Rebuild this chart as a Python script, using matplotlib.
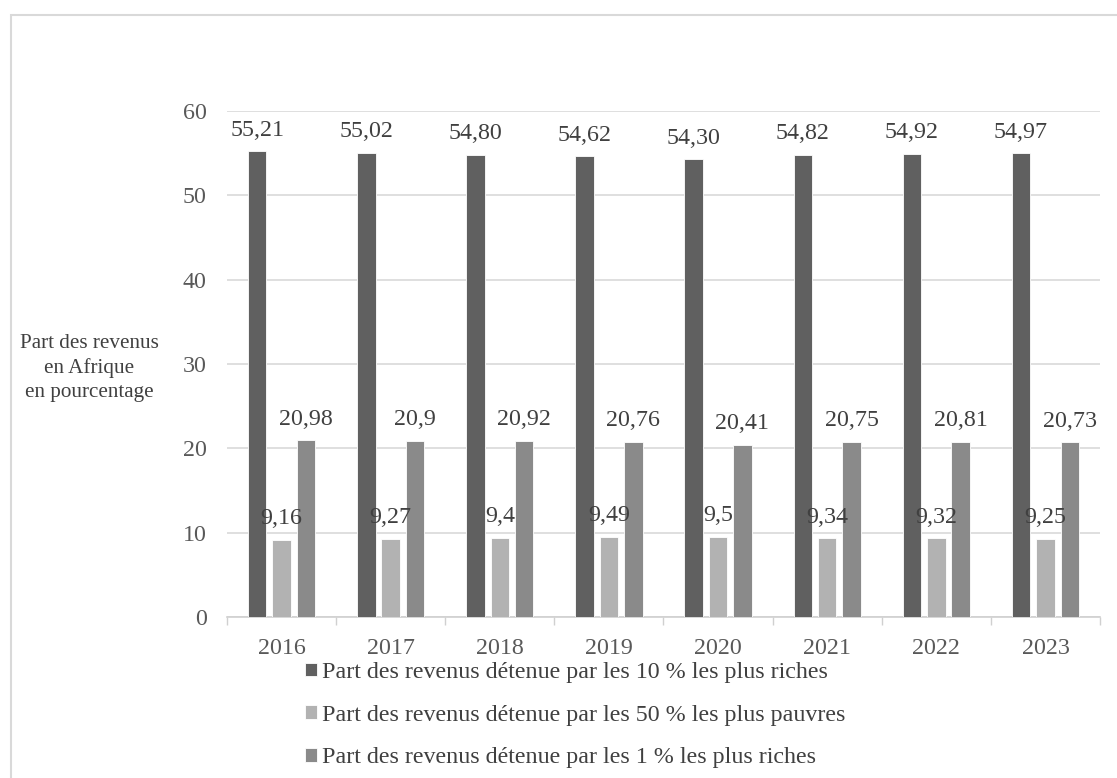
import numpy as np
import matplotlib
matplotlib.use("Agg")
import matplotlib.pyplot as plt
from matplotlib.patches import Rectangle

# data
years = ["2016", "2017", "2018", "2019", "2020", "2021", "2022", "2023"]
top10 = [55.21, 55.02, 54.80, 54.62, 54.30, 54.82, 54.92, 54.97]
bottom50 = [9.16, 9.27, 9.4, 9.49, 9.5, 9.34, 9.32, 9.25]
top1 = [20.98, 20.9, 20.92, 20.76, 20.41, 20.75, 20.81, 20.73]

series_names = [
    "Part des revenus détenue par les 10 % les plus riches",
    "Part des revenus détenue par les 50 % les plus pauvres",
    "Part des revenus détenue par les 1 % les plus riches",
]
colors = ["#606060", "#b2b2b2", "#8a8a8a"]
text_col = "#404040"
fs = 17.3

plt.rcParams["font.family"] = ["Liberation Serif", "DejaVu Serif"]

fig = plt.figure(figsize=(11.17, 7.78), dpi=100)
ax = fig.add_axes([0.2032, 0.2069, 0.7816, 0.6504])

x = np.arange(len(years))
w = 0.17
offsets = [-0.223, 0.0, 0.223]
all_series = [top10, bottom50, top1]
handles = []
for i, (vals, col) in enumerate(zip(all_series, colors)):
    bars = ax.bar(x + offsets[i], vals, width=w, color=col, edgecolor="white",
                  linewidth=0.6, zorder=3)
    handles.append(bars[0])
    for xi, v in zip(x + offsets[i], vals):
        if i == 0:
            s = f"{v:.2f}".replace(".", ",")
        else:
            s = f"{v:g}".replace(".", ",")
        ax.annotate(s, (xi, v), xytext=(0, 11.2), textcoords="offset points",
                    ha="center", va="baseline", fontsize=fs, color=text_col,
                    zorder=4)

ax.set_xlim(-0.5, len(years) - 0.5)
ax.set_ylim(0, 60)
ax.set_yticks(range(0, 61, 10))
ax.set_xticks(x)
ax.set_xticklabels(years)
ax.set_xticks(np.arange(-0.5, len(years), 1.0), minor=True)
ax.tick_params(axis="x", which="major", length=0, labelsize=fs,
               labelcolor="#595959", pad=15)
ax.tick_params(axis="x", which="minor", length=6, color="#d0d0d0", width=1)
ax.tick_params(axis="y", length=0, labelsize=fs, labelcolor="#595959", pad=14.5)

ax.grid(axis="y", color="#d9d9d9", linewidth=1.2, zorder=0)
for side in ["top", "right", "left"]:
    ax.spines[side].set_visible(False)
ax.spines["bottom"].set_color("#d0d0d0")
ax.spines["bottom"].set_linewidth(1.2)

fig.text(0.0797, 0.527, "Part des revenus\nen Afrique\nen pourcentage",
         ha="center", va="center", fontsize=15.2, color=text_col,
         linespacing=1.33)

fig.legend(handles, series_names, loc="upper left",
           bbox_to_anchor=(0.273, 0.149), frameon=False, fontsize=fs,
           handlelength=0.5, handleheight=0.5, handletextpad=0.2,
           labelspacing=0.9, labelcolor=text_col, borderpad=0,
           borderaxespad=0)

# outer frame
fig.patches.append(Rectangle((0.0098, -0.05), 1.1, 0.9807 + 0.05,
                             transform=fig.transFigure, fill=False,
                             edgecolor="#d9d9d9", linewidth=1.5))

fig.savefig("out.png", dpi=100)
